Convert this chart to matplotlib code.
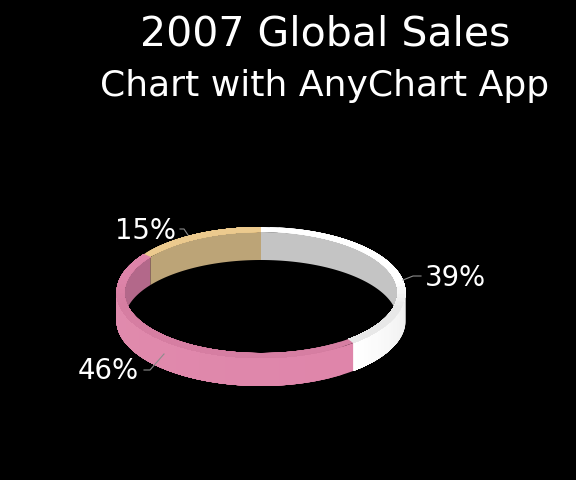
import numpy as np
import matplotlib
matplotlib.use("Agg")
import matplotlib.pyplot as plt
from matplotlib.colors import to_rgb
from matplotlib.patches import Polygon, Ellipse

title = "2007 Global Sales"
subtitle = "Chart with AnyChart App"
shares = [39, 46, 15]
labels = ["39%", "46%", "15%"]
rim_back = ["#ffffff", "#de84a9", "#ecca8e"]
rim_front = ["#e8e8e8", "#d67ea2", "#ecca8e"]
inner_colors = ["#c4c4c4", "#b3688a", "#bca477"]
wall_start = ["#eeeeee", "#df85aa", "#bca477"]
wall_end = ["#ffffff", "#e08bad", "#bca477"]
label_pos = [(455, 278), (108.5, 371), (145.5, 231)]
leaders = [
    [(403, 280), (413, 276), (421, 276)],
    [(164, 354), (150, 370), (144, 370)],
    [(188, 235), (184, 229), (180, 229)],
]

# ring geometry in pixels
cx, cy = 261, 292.5
a_out, b_out = 144.5, 65.5
a_in, b_in = 136.5, 60.5
depth = 28


def arc(t0, t1, a, b, dy=0):
    # angles run clockwise from 12 o'clock
    t = np.radians(np.linspace(t0, t1, max(int(abs(t1 - t0)) * 2, 2)))
    return np.column_stack([cx + a * np.sin(t), cy - b * np.cos(t) + dy])


def band(t0, t1, a0, b0, a1, b1, dy, color):
    pts = np.vstack([arc(t0, t1, a0, b0), arc(t1, t0, a1, b1, dy)])
    p = Polygon(pts, closed=True, fc=color, ec="none")
    ax.add_patch(p)
    return p


fig = plt.figure(figsize=(5.76, 4.8), dpi=100, facecolor="black")
ax = fig.add_axes([0, 0, 1, 1])
ax.set_xlim(0, 576)
ax.set_ylim(480, 0)
ax.axis("off")

edges = np.cumsum([0] + shares) * 3.6
hole = Ellipse((cx, cy), 2 * a_in, 2 * b_in, transform=ax.transData)

for i in range(len(shares)):
    t0, t1 = edges[i], edges[i + 1]

    # inside wall, only the back half shows
    for lo, hi in [(t0, min(t1, 90)), (max(t0, 270), t1)]:
        if hi > lo:
            p = band(lo, hi, a_in, b_in, a_in, b_in, depth, inner_colors[i])
            p.set_clip_path(hole)

for i in range(len(shares)):
    t0, t1 = edges[i], edges[i + 1]

    # outside wall, only the front half shows
    # each step paints through to the end of the slice so no seams show
    lo, hi = max(t0, 90), min(t1, 270)
    if hi > lo:
        c0, c1 = np.array(to_rgb(wall_start[i])), np.array(to_rgb(wall_end[i]))
        for k, s in enumerate(np.linspace(lo, hi, 25)[:-1]):
            band(s, hi, a_out, b_out, a_out, b_out, depth, c0 + (c1 - c0) * k / 23)

    # top rim, fading from the back colour to the front colour
    c0, c1 = np.array(to_rgb(rim_back[i])), np.array(to_rgb(rim_front[i]))
    for s in np.linspace(t0, t1, 41)[:-1]:
        w = np.clip(0.5 - 2.5 * np.cos(np.radians(s)), 0, 1)
        band(s, t1, a_out, b_out, a_in, b_in, 0, c0 + (c1 - c0) * w)

for pos, txt, line in zip(label_pos, labels, leaders):
    xs, ys = zip(*line)
    ax.plot(xs, ys, color="#8c8c8c", lw=0.8)
    ax.text(pos[0], pos[1], txt, color="white", fontsize=19.8, ha="center", va="center")

ax.text(325, 34, title, color="white", fontsize=29.5, ha="center", va="center")
ax.text(325, 86, subtitle, color="white", fontsize=26, ha="center", va="center")

fig.savefig("out.png", dpi=100, facecolor="black")
